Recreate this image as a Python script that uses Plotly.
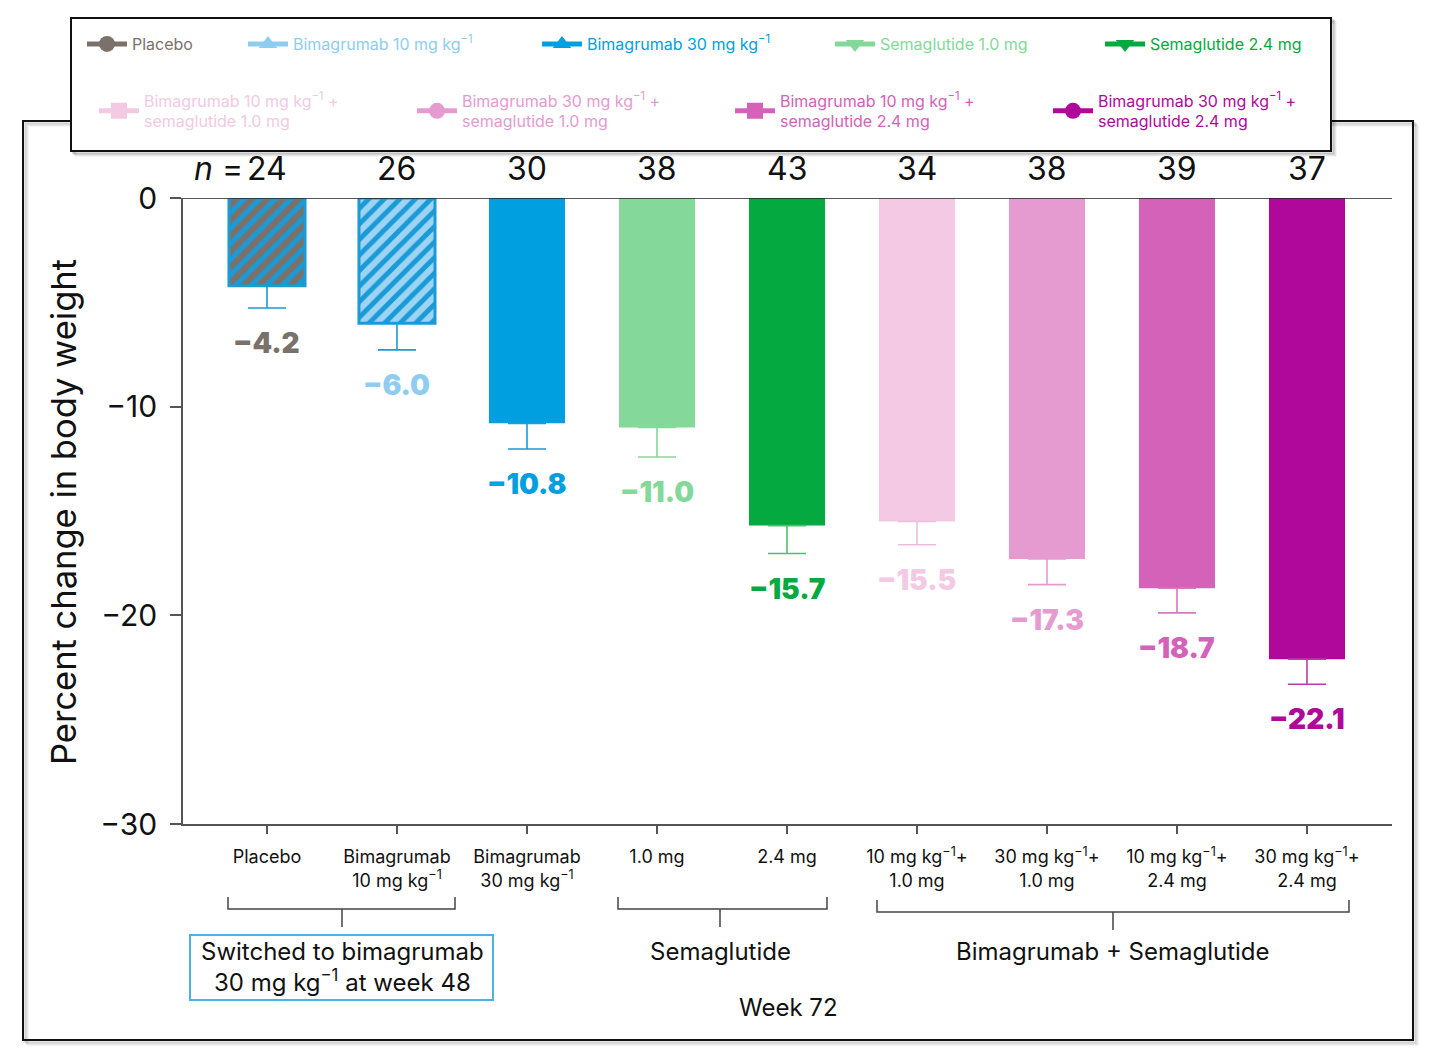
import plotly.graph_objects as go

W, H = 1431, 1061

# ---------------- data ----------------
groups = ["Placebo", "Bimagrumab 10 mg kg-1", "Bimagrumab 30 mg kg-1",
          "Semaglutide 1.0 mg", "Semaglutide 2.4 mg",
          "B10+S1.0", "B30+S1.0", "B10+S2.4", "B30+S2.4"]
values = [-4.2, -6.0, -10.8, -11.0, -15.7, -15.5, -17.3, -18.7, -22.1]
errors = [1.07, 1.28, 1.23, 1.41, 1.34, 1.12, 1.23, 1.18, 1.20]
n_counts = [24, 26, 30, 38, 43, 34, 38, 39, 37]
tick_labels = [
    "Placebo",
    "Bimagrumab<br>10 mg kg<sup>−1</sup>",
    "Bimagrumab<br>30 mg kg<sup>−1</sup>",
    "1.0 mg",
    "2.4 mg",
    "10 mg kg<sup>−1</sup>+<br>1.0 mg",
    "30 mg kg<sup>−1</sup>+<br>1.0 mg",
    "10 mg kg<sup>−1</sup>+<br>2.4 mg",
    "30 mg kg<sup>−1</sup>+<br>2.4 mg",
]
legend_names = [
    "Placebo",
    "Bimagrumab 10 mg kg<sup>−1</sup>",
    "Bimagrumab 30 mg kg<sup>−1</sup>",
    "Semaglutide 1.0 mg",
    "Semaglutide 2.4 mg",
    "Bimagrumab 10 mg kg<sup>−1</sup> +<br>semaglutide 1.0 mg",
    "Bimagrumab 30 mg kg<sup>−1</sup> +<br>semaglutide 1.0 mg",
    "Bimagrumab 10 mg kg<sup>−1</sup> +<br>semaglutide 2.4 mg",
    "Bimagrumab 30 mg kg<sup>−1</sup> +<br>semaglutide 2.4 mg",
]
y_ticks = [0, -10, -20, -30]
y_tick_text = ["0", "−10", "−20", "−30"]

# ---------------- styles ----------------
colors = ["#7a716b", "#8fcdf0", "#009fdf", "#84d99a", "#04aa3f",
          "#f3c9e3", "#e69bd0", "#d462b9", "#b0089b"]
bar_colors = ["#7a716b", "#9dd4f3", "#009fdf", "#84d99a", "#04aa3f",
              "#f3c9e3", "#e69bd0", "#d462b9", "#b0089b"]
err_colors = ["#1a9ad6", "#1a9ad6", "#1a9ad6", "#84d99a", "#4cc070",
              "#f0bcdc", "#e69bd0", "#d877c2", "#b93aa8"]
symbols = ["circle", "triangle-up", "triangle-up", "triangle-down", "triangle-down",
           "square", "circle", "square", "circle"]
hatched = [True, True, False, False, False, False, False, False, False]
HATCH_BLUE = "#1a9ad6"

FONT = "Inter"

def px(x):
    return x / W

def py(y):
    return 1 - y / H

fig = go.Figure()

for i, g in enumerate(groups):
    marker = dict(color=bar_colors[i])
    if hatched[i]:
        marker = dict(
            color=bar_colors[i],
            line=dict(color=HATCH_BLUE, width=3),
            pattern=dict(shape="/", fgcolor=HATCH_BLUE, bgcolor=bar_colors[i],
                         size=11, solidity=0.45, fillmode="replace"),
        )
    else:
        marker["line"] = dict(width=0)
    fig.add_trace(go.Bar(
        x=[i], y=[values[i]], width=0.585, marker=marker, showlegend=False,
        error_y=dict(type="data", symmetric=False, array=[0], arrayminus=[errors[i]],
                     color=err_colors[i], thickness=1.6, width=19),
        hoverinfo="skip",
    ))

# legend-only traces, each in its own legend
row1_line_x = [88, 249, 543, 836, 1106]
row2_line_x = [100, 418, 736, 1054]
legend_pos = [(x, 44) for x in row1_line_x] + [(x, 111) for x in row2_line_x]
legend_layouts = {}
for i, name in enumerate(legend_names):
    lid = "legend" if i == 0 else f"legend{i+1}"
    fig.add_trace(go.Scatter(
        x=[None], y=[None], mode="lines+markers", name=name,
        line=dict(color=colors[i], width=5),
        marker=dict(symbol=symbols[i], size=16, color=colors[i]),
        legend=lid, showlegend=True,
    ))
    lx, ly = legend_pos[i]
    legend_layouts[lid] = dict(
        x=px(lx - 6), y=py(ly), xanchor="left", yanchor="middle",
        bgcolor="rgba(0,0,0,0)", borderwidth=0,
        font=dict(family=FONT, size=16, color=colors[i]),
        itemwidth=40, tracegroupgap=0,
    )

x0_dom, x1_dom = px(183), px(1392)
y0_dom, y1_dom = py(824), py(198)

shapes = []
# outer frame shadow + frame
for k, op in enumerate([0.10, 0.08, 0.06, 0.04]):
    d = k + 2
    shapes.append(dict(type="rect", xref="paper", yref="paper",
                       x0=px(23 + d), x1=px(1413 + d), y0=py(1040 + d), y1=py(121 + d),
                       line=dict(color=f"rgba(0,0,0,{op})", width=2), layer="below"))
shapes.append(dict(type="rect", xref="paper", yref="paper",
                   x0=px(23), x1=px(1413), y0=py(1040), y1=py(121),
                   line=dict(color="#111", width=2), fillcolor="rgba(0,0,0,0)", layer="below"))
# legend box shadow + box
for k, op in enumerate([0.14, 0.10, 0.07, 0.04]):
    d = k + 2
    shapes.append(dict(type="rect", xref="paper", yref="paper",
                       x0=px(71 + d), x1=px(1331 + d), y0=py(151 + d), y1=py(18 + d),
                       line=dict(color=f"rgba(0,0,0,{op})", width=2), layer="above"))
shapes.append(dict(type="rect", xref="paper", yref="paper",
                   x0=px(71), x1=px(1331), y0=py(151), y1=py(18),
                   line=dict(color="#111", width=2), fillcolor="white", layer="above"))
# zero line
shapes.append(dict(type="line", xref="paper", yref="y", x0=px(183), x1=px(1392),
                   y0=0, y1=0, line=dict(color="#222", width=1.5), layer="above"))

# brackets
def bracket(xl, xr, ytop, ybar, xs, ystem):
    path = (f"M {px(xl)},{py(ytop)} L {px(xl)},{py(ybar)} L {px(xr)},{py(ybar)} "
            f"L {px(xr)},{py(ytop)} M {px(xs)},{py(ybar)} L {px(xs)},{py(ystem)}")
    return dict(type="path", xref="paper", yref="paper", path=path,
                line=dict(color="#444", width=1.5))

shapes.append(bracket(228, 455, 897, 909, 342, 927))
shapes.append(bracket(618, 827, 897, 909, 720, 927))
shapes.append(bracket(877, 1349, 900, 912, 1113, 930))
# switched box
shapes.append(dict(type="rect", xref="paper", yref="paper",
                   x0=px(190), x1=px(493), y0=py(1000), y1=py(935),
                   line=dict(color="#4cb2e4", width=2)))

annotations = []
# value labels
for i, v in enumerate(values):
    annotations.append(dict(
        x=i, y=v - errors[i], xref="x", yref="y", text=f"−{abs(v):.1f}",
        showarrow=False, xanchor="center", yanchor="top", yshift=-16,
        font=dict(family=FONT, size=28, color=colors[i], weight=900),
    ))
# n labels
for i, n in enumerate(n_counts):
    annotations.append(dict(
        x=i, y=py(168), xref="x", yref="paper", text=str(n), showarrow=False,
        xanchor="center", yanchor="middle", font=dict(family=FONT, size=32, color="#111"),
    ))
annotations.append(dict(
    x=0, y=py(168), xref="x", yref="paper", text="<i>n</i> =", showarrow=False,
    xanchor="right", yanchor="middle", xshift=-22,
    font=dict(family=FONT, size=32, color="#111"),
))
# y title
annotations.append(dict(
    x=px(63), y=py(512), xref="paper", yref="paper",
    text="Percent change in body weight", textangle=-90, showarrow=False,
    xanchor="center", yanchor="middle",
    font=dict(family=FONT, size=34.5, color="#111"),
))
# bottom texts
def center_text(x, y, text, size=24):
    return dict(x=px(x), y=py(y), xref="paper", yref="paper", text=text,
                showarrow=False, xanchor="center", yanchor="middle",
                font=dict(family=FONT, size=size, color="#111"))

annotations.append(center_text(342, 967, "Switched to bimagrumab<br>30 mg kg<sup>−1</sup> at week 48"))
annotations.append(center_text(720, 951, "Semaglutide"))
annotations.append(center_text(1113, 951, "Bimagrumab + Semaglutide"))
annotations.append(center_text(788, 1007, "Week 72"))

fig.update_layout(
    width=W, height=H,
    margin=dict(l=0, r=0, t=0, b=0, autoexpand=False),
    paper_bgcolor="white", plot_bgcolor="white",
    font=dict(family=FONT, color="#111"),
    barmode="overlay",
    xaxis=dict(domain=[x0_dom, x1_dom], range=[-0.646, 8.654],
               tickvals=list(range(len(groups))), ticktext=tick_labels,
               showline=True, linecolor="#555", linewidth=1.5,
               ticks="outside", ticklen=8, tickcolor="#555", tickwidth=1.5,
               tickfont=dict(family=FONT, size=18, color="#111"),
               ticklabelstandoff=8, automargin=False,
               showgrid=False, zeroline=False, fixedrange=True),
    yaxis=dict(domain=[y0_dom, y1_dom], range=[-30, 0],
               tickvals=y_ticks, ticktext=y_tick_text,
               showline=True, linecolor="#555", linewidth=1.5,
               ticks="outside", ticklen=11, tickcolor="#555", tickwidth=1.5,
               tickfont=dict(family=FONT, size=30, color="#111"),
               ticklabelstandoff=7, automargin=False,
               showgrid=False, zeroline=False, fixedrange=True),
    shapes=shapes,
    annotations=annotations,
    **legend_layouts,
)

fig.write_html("out.html")
